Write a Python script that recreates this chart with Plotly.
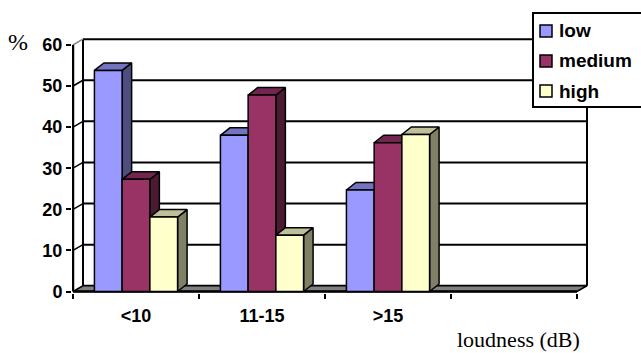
import plotly.graph_objects as go

# ---- data -------------------------------------------------------------
categories = ["<10", "11-15", ">15", ""]
series_names = ["low", "medium", "high"]
low = [53.8, 38.0, 24.7]
medium = [27.3, 47.8, 36.2]
high = [18.1, 13.7, 38.2]
y_ticks = [0, 10, 20, 30, 40, 50, 60]

series_values = [low, medium, high]
front_colors = ["#9999FF", "#993366", "#FFFFCC"]
top_colors = ["#7373BF", "#73264D", "#BFBF99"]
side_colors = ["#4D4D80", "#4D1A33", "#808066"]

# ---- geometry ---------------------------------------------------------
W, H = 641, 353
M = dict(l=72, r=48, t=35, b=60)
PW = W - M["l"] - M["r"]
PH = H - M["t"] - M["b"]
PX_PER_CAT = 126.0
PX_PER_UNIT = 4.11
x_lo = -1 / PX_PER_CAT
x_hi = x_lo + PW / PX_PER_CAT
y_lo = -1.5 / PX_PER_UNIT
y_hi = y_lo + PH / PX_PER_UNIT

# depth of the box walls and of the columns, in axis units
wall_dx = 10 / PX_PER_CAT
wall_dy = 5.75 / PX_PER_UNIT
col_dx = 9.5 / PX_PER_CAT
col_dy = 7.5 / PX_PER_UNIT

n_cat = len(categories)
y_max = y_ticks[-1]
group_width = 0.66
bar_w = group_width / len(series_names)

fig = go.Figure()


def line(xs, ys, color="black", width=2):
    fig.add_trace(go.Scatter(x=xs, y=ys, mode="lines",
                             line=dict(color=color, width=width),
                             hoverinfo="skip", showlegend=False))


def poly(xs, ys, fill, width=1.5):
    fig.add_trace(go.Scatter(x=xs + [xs[0]], y=ys + [ys[0]], mode="lines",
                             fill="toself", fillcolor=fill,
                             line=dict(color="black", width=width),
                             hoverinfo="skip", showlegend=False))


# back wall grid lines
for v in y_ticks:
    line([wall_dx, n_cat + wall_dx], [v + wall_dy, v + wall_dy])
# back wall edges
line([wall_dx, wall_dx], [wall_dy, y_max + wall_dy])
line([n_cat + wall_dx, n_cat + wall_dx], [wall_dy, y_max + wall_dy])
# side wall grid lines
for v in y_ticks[1:]:
    line([0, wall_dx], [v, v + wall_dy],
         color="#808080" if v == y_max else "black", width=1.5)

# floor
poly([0, n_cat, n_cat + wall_dx, wall_dx], [0, 0, wall_dy, wall_dy], "#808080")
line([0, n_cat], [0, 0], width=2.5)
line([0, 0], [0, y_max], width=2.5)

# columns: side face, top face, front face
for i in range(len(series_values[0])):
    centre = i + 0.5
    for j, vals in enumerate(series_values):
        v = vals[i]
        xl = centre - group_width / 2 + j * bar_w
        xr = xl + bar_w
        poly([xr, xr + col_dx, xr + col_dx, xr], [0, col_dy, v + col_dy, v],
             side_colors[j])
        poly([xl, xr, xr + col_dx, xl + col_dx], [v, v, v + col_dy, v + col_dy],
             top_colors[j])
        poly([xl, xr, xr, xl], [0, 0, v, v], front_colors[j])


# ---- legend (drawn in pixel positions on the page) ----------------------
def px_x(p):
    return (p - M["l"]) / PW


def px_y(p):
    return (H - M["b"] - p) / PH


shapes = [dict(type="rect", xref="paper", yref="paper",
               x0=px_x(533), x1=px_x(660), y0=px_y(107), y1=px_y(13),
               fillcolor="white", line=dict(color="black", width=2),
               layer="above")]
annotations = []
for k, name in enumerate(series_names):
    cy = 31 + 30 * k
    shapes.append(dict(type="rect", xref="paper", yref="paper",
                       x0=px_x(540), x1=px_x(552), y0=px_y(cy + 6), y1=px_y(cy - 6),
                       fillcolor=front_colors[k],
                       line=dict(color="black", width=1.5), layer="above"))
    annotations.append(dict(xref="paper", yref="paper", x=px_x(557), y=px_y(cy),
                            xanchor="left", yanchor="middle", showarrow=False,
                            text=name,
                            font=dict(family="Liberation Sans, Arial", size=19,
                                      color="black", weight="bold")))

annotations.append(dict(xref="paper", yref="paper", x=px_x(18), y=px_y(42),
                        xanchor="center", yanchor="middle", showarrow=False,
                        text="%",
                        font=dict(family="Liberation Serif, Times New Roman",
                                  size=24, color="black")))
annotations.append(dict(xref="paper", yref="paper", x=px_x(518), y=px_y(340),
                        xanchor="center", yanchor="middle", showarrow=False,
                        text="loudness (dB)",
                        font=dict(family="Liberation Serif, Times New Roman",
                                  size=22, color="black")))

tick_font = dict(family="Liberation Sans, Arial", size=18, color="black",
                 weight="bold")

fig.update_layout(
    width=W, height=H, margin=M,
    paper_bgcolor="white", plot_bgcolor="white",
    showlegend=False,
    shapes=shapes, annotations=annotations,
    xaxis=dict(range=[x_lo, x_hi], showgrid=False, zeroline=False,
               showline=False,
               tickmode="array",
               tickvals=[i + 0.5 for i in range(n_cat)],
               ticktext=categories,
               ticks="outside", ticklen=6, tickcolor="rgba(0,0,0,0)",
               tickfont=tick_font,
               minor=dict(tickmode="array", tickvals=list(range(n_cat + 1)),
                          ticks="outside", ticklen=5, tickwidth=2,
                          tickcolor="black", showgrid=False)),
    yaxis=dict(range=[y_lo, y_hi], showgrid=False, zeroline=False,
               showline=False,
               tickmode="array", tickvals=y_ticks,
               ticks="outside", ticklen=5, tickwidth=2, tickcolor="black",
               tickfont=tick_font),
)

fig.write_html("out.html")
